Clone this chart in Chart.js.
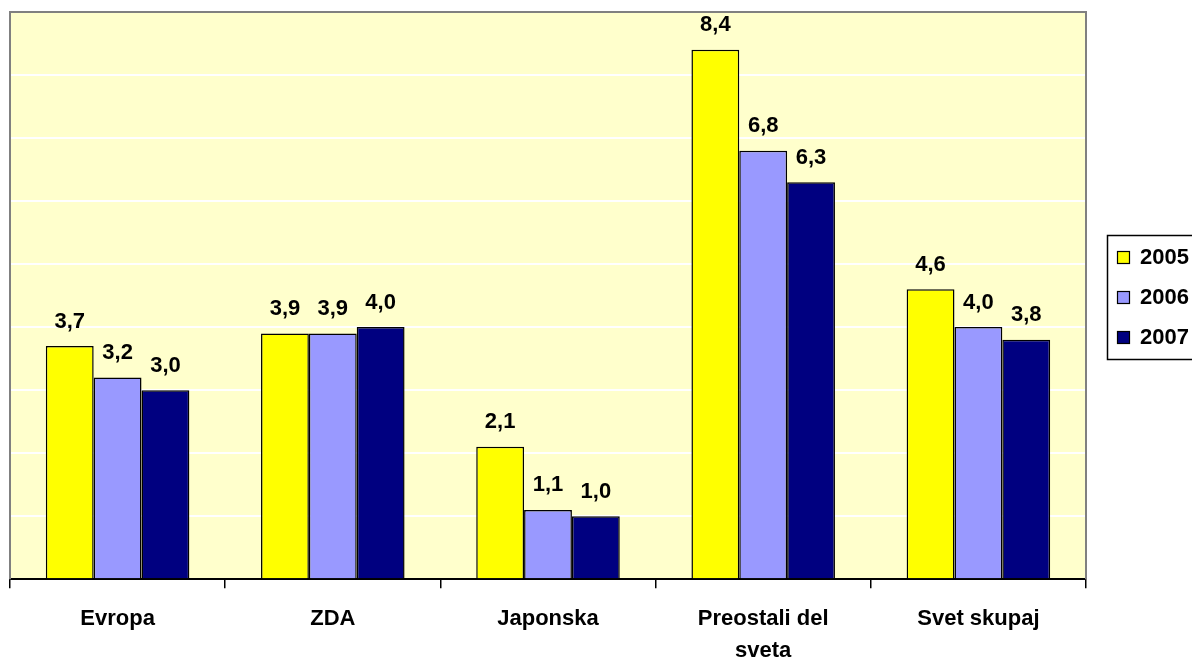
<!DOCTYPE html>
<html><head><meta charset="utf-8">
<script src="https://cdn.jsdelivr.net/npm/chart.js@4/dist/chart.umd.min.js"></script>
<style>html,body{margin:0;padding:0;background:#fff;overflow:hidden;}#wrap{width:1192px;height:657px;position:relative;overflow:hidden;}</style>
</head><body><div id="wrap"><canvas id="c" width="1192" height="692"></canvas></div>
<script>
const categories = ["Evropa", "ZDA", "Japonska", ["Preostali del", "sveta"], "Svet skupaj"];
const seriesNames = ["2005", "2006", "2007"];
const values2005 = [3.7, 3.9, 2.1, 8.4, 4.6];
const values2006 = [3.2, 3.9, 1.1, 6.8, 4.0];
const values2007 = [3.0, 4.0, 1.0, 6.3, 3.8];
const colors = ["#FFFF00", "#9999FF", "#000080"];
const FONT = "'Liberation Sans', Arial, sans-serif";

const bgPlugin = {
  id: 'bg',
  beforeDraw(chart) {
    const {ctx, chartArea: a} = chart;
    ctx.save();
    ctx.fillStyle = '#FFFFCC';
    ctx.fillRect(a.left, a.top, a.right - a.left, a.bottom - a.top);
    ctx.restore();
  },
  afterDatasetsDraw(chart) {
    const {ctx, chartArea: a} = chart;
    ctx.save();
    ctx.strokeStyle = '#808080';
    ctx.lineWidth = 2;
    ctx.beginPath();
    ctx.moveTo(a.left, a.bottom);
    ctx.lineTo(a.left, a.top);
    ctx.lineTo(a.right, a.top);
    ctx.lineTo(a.right, a.bottom);
    ctx.stroke();
    // value labels
    ctx.fillStyle = '#000';
    ctx.font = 'bold 22px ' + FONT;
    ctx.textAlign = 'center';
    ctx.textBaseline = 'alphabetic';
    chart.data.datasets.forEach((ds, i) => {
      const meta = chart.getDatasetMeta(i);
      meta.data.forEach((bar, j) => {
        const v = ds.data[j];
        ctx.fillText(v.toFixed(1).replace('.', ','), bar.x, bar.y - 18.5);
      });
    });
    // legend
    const lx = 1107, ly = 235;
    ctx.fillStyle = '#fff';
    ctx.fillRect(lx, ly, 120, 124);
    ctx.strokeStyle = '#000';
    ctx.lineWidth = 1.5;
    ctx.strokeRect(lx + 0.5, ly + 0.5, 120, 124);
    ctx.font = 'bold 22px ' + FONT;
    ctx.textAlign = 'left';
    ctx.textBaseline = 'middle';
    seriesNames.forEach((n, i) => {
      const y = ly + 22 + i * 40;
      ctx.fillStyle = colors[i];
      ctx.fillRect(lx + 10, y - 6, 13, 13);
      ctx.strokeStyle = '#000';
      ctx.lineWidth = 1.2;
      ctx.strokeRect(lx + 10.5, y - 5.5, 12, 12);
      ctx.fillStyle = '#000';
      ctx.fillText(n, lx + 33, y + 1);
    });
    ctx.restore();
  }
};

const ds = [values2005, values2006, values2007].map((d, i) => ({
  label: seriesNames[i],
  data: d,
  backgroundColor: colors[i],
  borderColor: '#000',
  borderWidth: 1.5,
  barPercentage: 1.0,
  categoryPercentage: 0.667
}));

new Chart(document.getElementById('c'), {
  type: 'bar',
  data: { labels: categories, datasets: ds },
  options: {
    responsive: false,
    animation: false,
    layout: { padding: { left: 10, top: 12, right: 106, bottom: 10 } },
    plugins: { legend: { display: false }, tooltip: { enabled: false } },
    scales: {
      x: {
        grid: { offset: true, drawOnChartArea: false, color: '#000', tickLength: 9, lineWidth: 1.5 },
        border: { display: true, color: '#000', width: 2 },
        ticks: { color: '#000', font: { family: FONT, size: 22, weight: 'bold', lineHeight: 1.45 }, padding: 15, maxRotation: 0, autoSkip: false }
      },
      y: {
        min: 0, max: 9,
        ticks: { display: false, stepSize: 1 },
        grid: { color: '#FFFFFF', lineWidth: 2, drawTicks: false },
        border: { display: false }
      }
    }
  },
  plugins: [bgPlugin]
});
</script></body></html>
